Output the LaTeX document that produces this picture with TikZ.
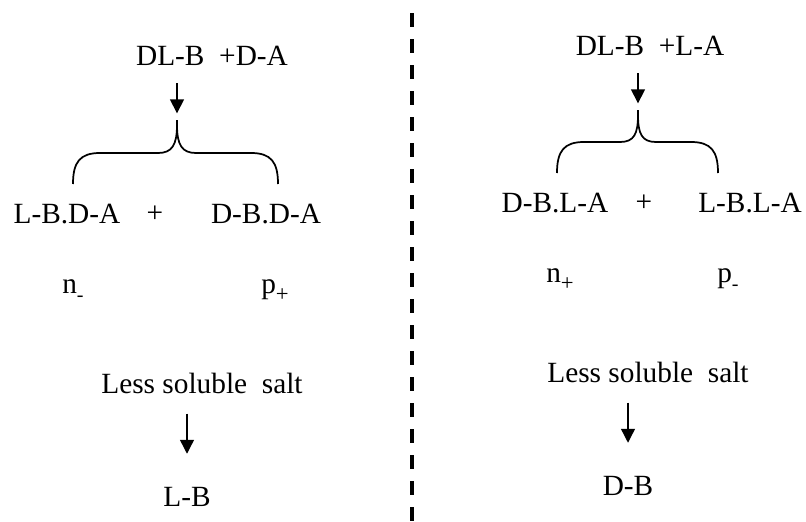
\documentclass[tikz,border=0pt]{standalone}
\usepackage{fontspec}
\setmainfont{Liberation Serif}
\usetikzlibrary{arrows.meta, positioning, calc}

\newcommand{\subplus}{\raisebox{-0.28em}{\fontsize{17}{17}\selectfont +}}
\newcommand{\subminus}{\raisebox{-0.28em}{\fontsize{15}{15}\selectfont -}}

\begin{document}
\begin{tikzpicture}[x=0.75pt, y=-0.75pt,
    every node/.style={inner sep=0pt, font=\fontsize{22}{26}\selectfont},
    arr/.style={-{Triangle[length=10.5pt, width=10.5pt]}, line width=1pt},
    brace/.style={line width=1.3pt},
    divider/.style={line width=2.3pt, dash pattern=on 10.5pt off 9pt}]
    \useasboundingbox (0,0) rectangle (806,521);

    % left half
    \node (mixL) at (212,56) {DL-B~ +D-A};
    \coordinate (tipL) at (177,120);
    \draw[arr, shorten <=13pt, shorten >=5pt] (mixL.south -| tipL) -- (tipL);
    \draw[brace] (73,184) .. controls (73,162) and (80,153) .. (100,153) -- (158,153)
        .. controls (172,153) and (177,145) .. (177,125) -- (tipL)
        (177,125) .. controls (177,145) and (182,153) .. (196,153) -- (251,153)
        .. controls (271,153) and (278,162) .. (278,184);
    \node (saltLa) at (67,214) {L-B.D-A};
    \node (plusL) at (155,214) {+};
    \node (saltLb) at (266,214) {D-B.D-A};
    \node[anchor=base west] (nL) at (62,293) {n\subminus};
    \node[anchor=base west] (pL) at (261,293) {p\subplus};
    \node (lessL) at (202,383) {Less soluble~ salt};
    \node (prodL) at (187,497) {L-B};
    \draw[arr, shorten <=15pt, shorten >=25pt] (lessL.south -| prodL.north) -- (prodL.north);

    % divider
    \draw[divider] (412,13) -- (412,521);

    % right half
    \node (mixR) at (650,46) {DL-B~ +L-A};
    \coordinate (tipR) at (638,110);
    \draw[arr, shorten <=13pt, shorten >=5pt] (mixR.south -| tipR) -- (tipR);
    \draw[brace] (557,173) .. controls (557,151) and (564,142) .. (584,142) -- (620,142)
        .. controls (634,142) and (638,134) .. (638,115) -- (tipR)
        (638,115) .. controls (638,134) and (642,142) .. (656,142) -- (691,142)
        .. controls (711,142) and (718,151) .. (718,173);
    \node (saltRa) at (555,203) {D-B.L-A};
    \node (plusR) at (644,203) {+};
    \node (saltRb) at (750,203) {L-B.L-A};
    \node[anchor=base west] (nR) at (546,282) {n\subplus};
    \node[anchor=base west] (pR) at (717,282) {p\subminus};
    \node (lessR) at (648,372) {Less soluble~ salt};
    \node (prodR) at (628,486) {D-B};
    \draw[arr, shorten <=15pt, shorten >=25pt] (lessR.south -| prodR.north) -- (prodR.north);
\end{tikzpicture}
\end{document}
